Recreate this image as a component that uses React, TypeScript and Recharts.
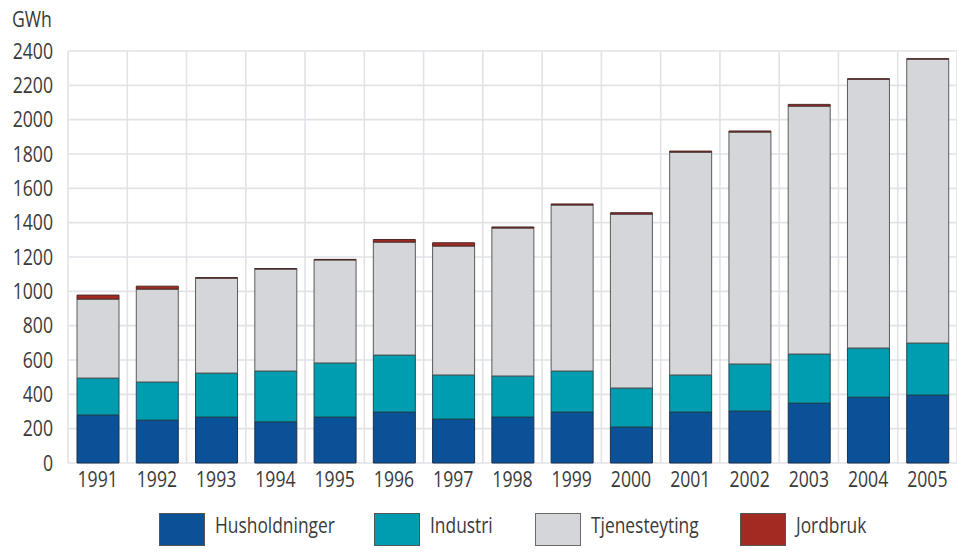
import React from 'react';
import { BarChart, Bar, XAxis, YAxis, CartesianGrid, Legend } from 'recharts';

const years = ['1991', '1992', '1993', '1994', '1995', '1996', '1997', '1998', '1999', '2000', '2001', '2002', '2003', '2004', '2005'];
const husholdninger = [280, 250, 268, 240, 268, 297, 256, 268, 297, 210, 297, 303, 349, 384, 396];
const industri = [215, 222, 256, 296, 315, 332, 257, 239, 239, 227, 216, 274, 286, 286, 303];
const tjenesteyting = [460, 541, 553, 594, 600, 658, 751, 862, 967, 1013, 1298, 1351, 1444, 1566, 1654];
const jordbruk = [23, 17, 3, 3, 3, 15, 19, 6, 6, 8, 6, 6, 10, 2, 2];
const seriesNames = ['Husholdninger', 'Industri', 'Tjenesteyting', 'Jordbruk'];
const yTicks = [0, 200, 400, 600, 800, 1000, 1200, 1400, 1600, 1800, 2000, 2200, 2400];

const data = years.map((year, i) => ({
  year,
  husholdninger: husholdninger[i],
  industri: industri[i],
  tjenesteyting: tjenesteyting[i],
  jordbruk: jordbruk[i],
}));

const FONT = '"Open Sans", sans-serif';
const TEXT = '#3a3a3a';

// the source font is a condensed sans, so squeeze the text horizontally
const CondensedTick = ({ x, y, payload, anchor, dy }: any) => (
  <g transform={`translate(${x},${y})`}>
    <text transform="scale(0.82,1)" textAnchor={anchor} dy={dy} fill={TEXT} fontSize={21.5} fontFamily={FONT}>
      {payload.value}
    </text>
  </g>
);

const legendX = [159, 374, 535, 740];

const LegendContent = ({ payload }: any) => {
  const items = [...(payload || [])].sort(
    (a: any, b: any) => seriesNames.indexOf(a.value) - seriesNames.indexOf(b.value)
  );
  return (
    <svg width={957} height={52}>
      {items.map((entry: any, i: number) => (
        <g key={entry.value} transform={`translate(${legendX[i]},0)`}>
          <rect x={0.5} y={8.5} width={45} height={32} fill={entry.color} stroke={i === 2 ? '#6a6a6a' : '#555'} strokeWidth={1} />
          <g transform="translate(56,28)">
            <text transform="scale(0.79,1)" fill={TEXT} fontSize={22} fontFamily={FONT}>
              {entry.value}
            </text>
          </g>
        </g>
      ))}
    </svg>
  );
};

export default function App() {
  return (
    <div style={{ position: 'absolute', left: 0, top: 0, width: 957, height: 557, background: '#fff' }}>
      <div style={{ position: 'absolute', left: 12, top: 4, fontFamily: FONT, fontSize: 21.5, color: TEXT, transform: 'scaleX(0.82)', transformOrigin: 'left' }}>
        GWh
      </div>
      <BarChart width={957} height={557} data={data} margin={{ top: 51, right: 0, left: 0, bottom: 0 }} barSize={42}>
        <CartesianGrid
          stroke="#e2e3e7"
          strokeWidth={1.6}
          verticalCoordinatesGenerator={({ offset }: any) =>
            years.map((_, i) => offset.left + (i * offset.width) / years.length).concat(offset.left + offset.width)
          }
        />
        <XAxis
          dataKey="year"
          height={94}
          interval={0}
          axisLine={false}
          tickLine={false}
          tickSize={0}
          tickMargin={9}
          tick={<CondensedTick anchor="middle" dy="0.71em" />}
        />
        <YAxis
          type="number"
          width={68}
          domain={[0, 2400]}
          ticks={yTicks}
          interval={0}
          axisLine={false}
          tickLine={false}
          tickSize={0}
          tickMargin={15}
          tick={<CondensedTick anchor="end" dy="0.36em" />}
        />
        <Legend
          layout="vertical"
          align="center"
          verticalAlign="middle"
          content={<LegendContent />}
          wrapperStyle={{ position: 'absolute', left: 0, top: 505, width: 957, height: 52 }}
        />
        <Bar dataKey="husholdninger" name="Husholdninger" stackId="a" fill="#0b5197" stroke="#1d2f4a" strokeWidth={1} isAnimationActive={false} />
        <Bar dataKey="industri" name="Industri" stackId="a" fill="#009db0" stroke="#1f4b55" strokeWidth={1} isAnimationActive={false} />
        <Bar dataKey="tjenesteyting" name="Tjenesteyting" stackId="a" fill="#d5d6da" stroke="#5a5a5a" strokeWidth={1} isAnimationActive={false} />
        <Bar dataKey="jordbruk" name="Jordbruk" stackId="a" fill="#a32a22" stroke="#4a2a28" strokeWidth={1} isAnimationActive={false} />
      </BarChart>
    </div>
  );
}
